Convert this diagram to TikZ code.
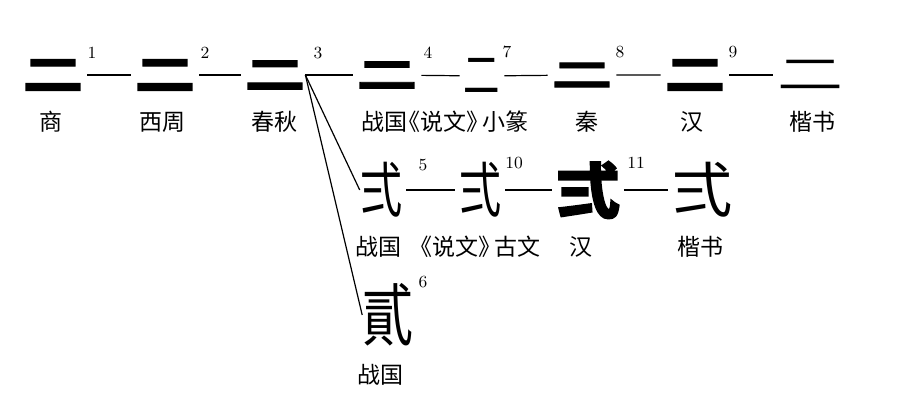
\documentclass[tikz,border=0pt]{standalone}
\usepackage{fontspec}
\newfontfamily\cjk{Noto Sans CJK SC}
\newfontfamily\cjkheavy{Noto Sans CJK SC}[BoldFeatures={FakeBold=2.5}]
\usepackage{tikz}

\begin{document}
\begin{tikzpicture}[x=0.5pt,y=-0.5pt,
  glyph/.style={inner sep=0pt, font=\cjk\fontsize{30}{30}\selectfont},
  heavy/.style={inner sep=0pt, font=\cjkheavy\bfseries\fontsize{30}{30}\selectfont},
  era/.style={inner sep=0pt, font=\cjk\fontsize{11.5}{12}\selectfont},
  num/.style={inner sep=0pt, font=\fontsize{8.5}{9}\selectfont},
  link/.style={line width=0.6pt, shorten <=2pt, shorten >=2pt}]

\useasboundingbox (0,0) rectangle (901,410);

%% forms, first row
\node[heavy, yscale=0.7] (shang) at (53,75) {二};              %% 1
\node[heavy, yscale=0.7] (xizhou) at (165,75) {二};            %% 2
\node[heavy, yscale=0.65] (chunqiu) at (275,75) {二};          %% 3
\node[heavy, yscale=0.6] (zhanguo) at (387,75) {二};           %% 4
\node[glyph, xscale=0.65, yscale=0.9, font=\cjk\fontsize{28}{28}\selectfont] (xiaozhuan) at (482,76) {二}; %% 7
\node[heavy, yscale=0.55] (qin) at (582,75) {二};              %% 8
\node[heavy, yscale=0.7] (han) at (695,75) {二};               %% 9
\node[glyph, xscale=1.1, yscale=0.7] (kaishu) at (810,75) {二};

%% forms, second row
\node[glyph, xscale=0.7] (zhanguoB) at (381,190) {弍};         %% 5
\node[glyph, xscale=0.7] (guwen) at (480,190) {弍};            %% 10
\node[heavy, xscale=1.05] (hanB) at (588,190) {弍};            %% 11
\node[glyph] (kaishuB) at (702,190) {弍};

%% forms, third row
\node[glyph, xscale=0.75, font=\cjk\fontsize{34}{34}\selectfont] (zhanguoC) at (388,315) {貳}; %% 6

%% numbers
\node[num] (n1) at (92,53) {1};
\node[num] (n2) at (205,53) {2};
\node[num] (n3) at (318,53) {3};
\node[num] (n4) at (428,53) {4};
\node[num] (n7) at (507,52) {7};
\node[num] (n8) at (620,52) {8};
\node[num] (n9) at (733,52) {9};
\node[num] (n5) at (423,165) {5};
\node[num] (n10) at (514,163) {10};
\node[num] (n11) at (636,163) {11};
\node[num] (n6) at (423,282) {6};

%% periods
\node[era] (lshang) at (51,122) {商};
\node[era] (lxizhou) at (162,122) {西周};
\node[era] (lchunqiu) at (274,122) {春秋};
\node[era] (lzhanguo) at (384,122) {战国};
\node[era] (lxiaozhuan) at (466,122) {\kern-.3em《说文》\kern-.3em小篆};
\node[era] (lqin) at (587,122) {秦};
\node[era] (lhan) at (692,122) {汉};
\node[era] (lkaishu) at (812,122) {楷书};
\node[era] (lzhanguoB) at (378,247) {战国};
\node[era] (lguwen) at (478,247) {\kern-.3em《说文》\kern-.3em古文};
\node[era] (lhanB) at (581,247) {汉};
\node[era] (lkaishuB) at (700,247) {楷书};
\node[era] (lzhanguoC) at (380,375) {战国};

%% connectors
\coordinate (fork) at (chunqiu.east);
\draw[link] (shang) -- (xizhou);                 %% 1-2
\draw[link] (xizhou) -- (chunqiu);               %% 2-3
\draw[link, shorten <=0pt] (fork) -- (zhanguo);  %% 3-4
\draw[link] (zhanguo) -- (xiaozhuan);            %% 4-7
\draw[link] (xiaozhuan) -- (qin);                %% 7-8
\draw[link] (qin) -- (han);                      %% 8-9
\draw[link] (han) -- (kaishu);                   %% 9
\draw[line width=0.6pt] (fork) -- (zhanguoB.west); %% 3-5
\draw[line width=0.6pt] (fork) -- (zhanguoC.west); %% 3-6
\draw[link] (zhanguoB) -- (guwen);               %% 5-10
\draw[link] (guwen) -- (hanB);                   %% 10-11
\draw[link] (hanB) -- (kaishuB);                 %% 11
\end{tikzpicture}
\end{document}
